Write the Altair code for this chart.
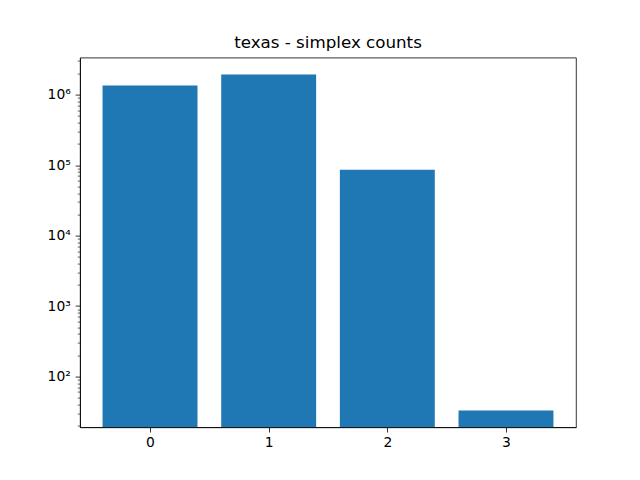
import altair as alt
import pandas as pd

dims = [0, 1, 2, 3]
counts = [1355000, 1940000, 85800, 33]

Y_MIN = 19.05
Y_MAX = 3.36e6
x_ticks = [0, 1, 2, 3]
y_ticks = [m * 10 ** e for e in range(1, 7) for m in range(1, 10)]
y_ticks = [v for v in y_ticks if Y_MIN <= v <= Y_MAX]

df = pd.DataFrame({"dim": dims, "count": counts})

pow_test = "abs(log(datum.value)/LN10 - round(log(datum.value)/LN10)) < 1e-6"
sup = ("round(log(datum.value)/LN10) == 1 ? '10¹' : round(log(datum.value)/LN10) == 2 ? '10²' : "
       "round(log(datum.value)/LN10) == 3 ? '10³' : round(log(datum.value)/LN10) == 4 ? '10⁴' : "
       "round(log(datum.value)/LN10) == 5 ? '10⁵' : round(log(datum.value)/LN10) == 6 ? '10⁶' : ''")
label_expr = f"({pow_test}) ? ({sup}) : ''"

chart = (
    alt.Chart(df)
    .transform_calculate(x0="datum.dim - 0.4", x1="datum.dim + 0.4")
    .mark_bar(color="#1f77b4", clip=True)
    .encode(
        x=alt.X(
            "x0:Q",
            scale=alt.Scale(domain=[-0.59, 3.59], nice=False, zero=False),
            axis=alt.Axis(
                values=x_ticks, format="d", title=None, grid=False,
                tickSize=4.86, tickWidth=0.8, tickColor="black",
                labelPadding=3.5, labelFontSize=13.9, labelColor="black",
                labelFont="DejaVu Sans", domainColor="black", domainWidth=0.8,
            ),
        ),
        x2="x1:Q",
        y=alt.Y(
            "count:Q",
            scale=alt.Scale(type="log", domain=[Y_MIN, Y_MAX], nice=False),
            axis=alt.Axis(
                values=y_ticks, labelExpr=label_expr, title=None, grid=False,
                tickSize={"condition": {"test": pow_test, "value": 4.86}, "value": 2.78},
                tickWidth={"condition": {"test": pow_test, "value": 0.8}, "value": 0.6},
                tickColor="black", labelPadding=4.86, labelFontSize=13.9,
                labelColor="black", labelFont="DejaVu Sans",
                domainColor="black", domainWidth=0.8, labelOverlap=False,
            ),
        ),
        y2=alt.datum(Y_MIN),
    )
    .properties(
        width=496,
        height=369.6,
        title=alt.TitleParams(
            "texas - simplex counts", fontSize=16.7, font="DejaVu Sans",
            fontWeight="normal", color="black", anchor="middle",
            baseline="alphabetic", offset=-11,
        ),
        autosize=alt.AutoSizeParams(type="none"),
        padding={"left": 72, "top": 49.6, "right": 56, "bottom": 45},
    )
    .configure_view(stroke="black", strokeWidth=0.8)
)

chart.save("out.html", embed_options={"renderer": "svg", "actions": False})
